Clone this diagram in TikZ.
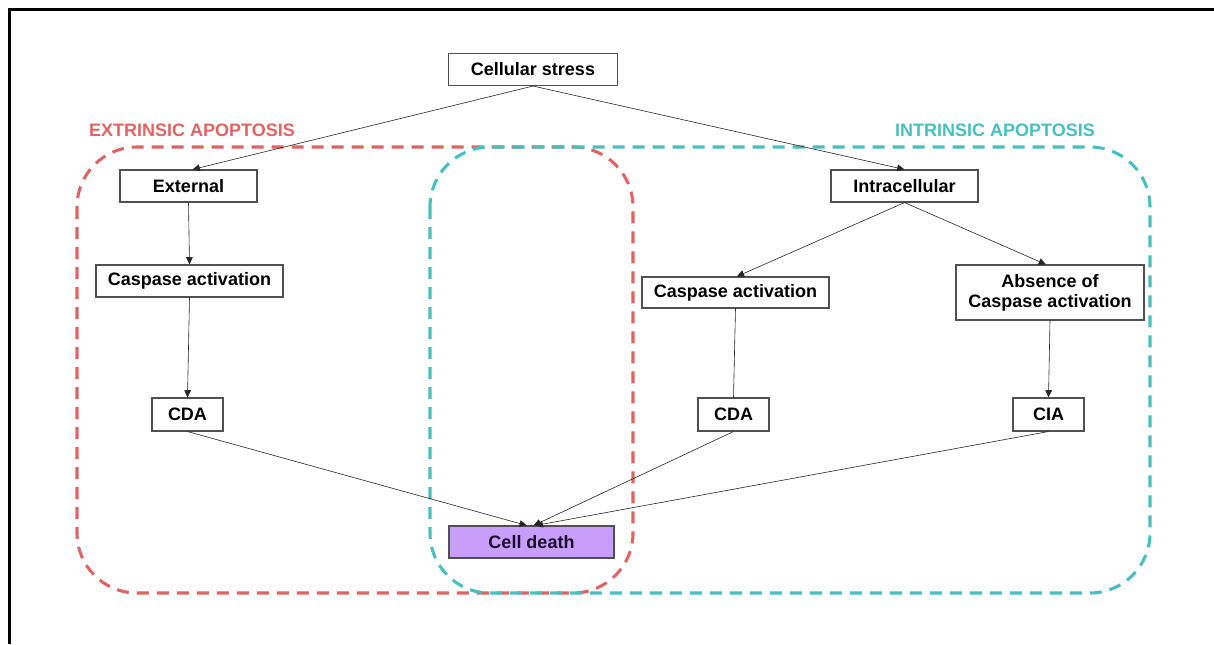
\documentclass[tikz,border=0pt]{standalone}
\usepackage{fontspec}
\setmainfont{Liberation Sans}
\usetikzlibrary{arrows.meta}
\definecolor{exred}{RGB}{224,100,100}
\definecolor{inteal}{RGB}{72,192,192}
\definecolor{cdfill}{RGB}{200,158,250}
\definecolor{boxline}{RGB}{80,80,80}
\begin{document}
\begin{tikzpicture}[x=0.75pt,y=-0.75pt,
  box/.style={draw=boxline,line width=0.8pt,fill=white,inner sep=0pt,align=center,
    font=\fontsize{13.5}{16}\selectfont\bfseries},
  conn/.style={draw=black!85,line width=0.45pt},
  arr/.style={conn,-{Triangle[length=5.5pt,width=5pt]}},
  region/.style={line width=2.3pt,dash pattern=on 9pt off 6pt,rounded corners=45pt},
  lab/.style={font=\fontsize{13.5}{16}\selectfont\bfseries,inner sep=0pt}]
\useasboundingbox (0,0) rectangle (1214,644);
\fill[white] (0,0) rectangle (1214,644);
% frame
\draw[line width=2.4pt] (9.5,644) -- (9.5,9.5) -- (1214,9.5);
% regions
\draw[region,exred] (77,147) rectangle (633,593);
\draw[region,inteal] (430,147) rectangle (1150,593);
\node[lab,text=exred] (lext) at (192,130) {EXTRINSIC APOPTOSIS};
\node[lab,text=inteal] (lint) at (995,130) {INTRINSIC APOPTOSIS};
% nodes
\node[box,minimum width=126.75pt,minimum height=24pt] (cs) at (533,69.5) {Cellular stress};
\node[box,minimum width=102.75pt,minimum height=24pt] (ext) at (188.5,186) {External};
\node[box,minimum width=140.25pt,minimum height=24pt] (cal) at (189.5,281) {Caspase activation};
\node[box,minimum width=53.25pt,minimum height=24.75pt] (cdal) at (187.5,414.5) {CDA};
\node[box,fill=cdfill,text={rgb,255:red,25;green,15;blue,45},minimum width=123.75pt,minimum height=24pt] (cd) at (531.5,542) {Cell death};
\node[box,minimum width=110.25pt,minimum height=24pt] (intra) at (904.5,186) {Intracellular};
\node[box,minimum width=140.25pt,minimum height=23.25pt] (car) at (735.5,292.5) {Caspase activation};
\node[box,minimum width=53.25pt,minimum height=24.75pt] (cdar) at (733.5,414.5) {CDA};
\node[box,minimum width=141pt,minimum height=41.25pt] (abs) at (1050,292.5) {Absence of\\[-1pt]Caspase activation};
\node[box,minimum width=53.25pt,minimum height=24.75pt] (cia) at (1048.5,414.5) {CIA};
% connectors
\draw[arr] (cs.south) -- ([xshift=3pt]ext.north);
\draw[arr] (cs.south) -- (intra.north);
\draw[arr] (ext.south) -- (cal.north);
\draw[arr] (cal.south) -- (cdal.north);
\draw[arr] (intra.south) -- ([xshift=1pt]car.north);
\draw[arr] (intra.south) -- ([xshift=-3pt]abs.north);
\draw[conn] (car.south) -- (cdar.north);
\draw[arr] (abs.south) -- (cia.north);
\draw[arr] (cdal.south) -- ([xshift=-3.5pt]cd.north);
\draw[arr] (cdar.south) -- ([xshift=1.5pt]cd.north);
\draw[arr] (cia.south) -- ([xshift=3pt]cd.north);
\end{tikzpicture}
\end{document}
